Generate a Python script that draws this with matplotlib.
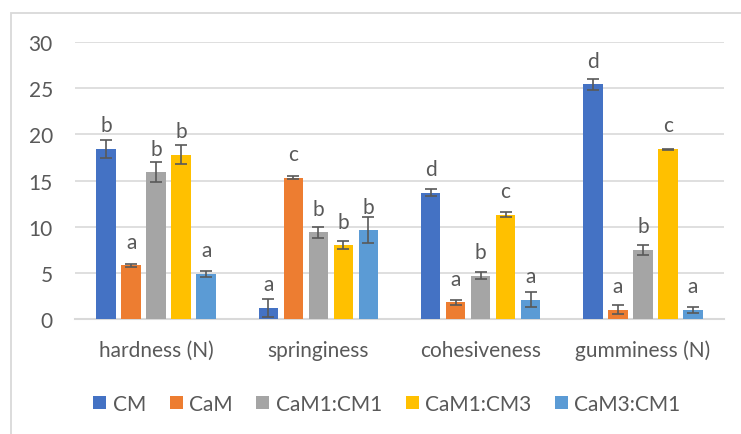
import matplotlib
matplotlib.use("Agg")
import matplotlib.pyplot as plt
import numpy as np
from matplotlib.patches import Rectangle

categories = ["hardness (N)", "springiness", "cohesiveness", "gumminess (N)"]
series = ["CM", "CaM", "CaM1:CM1", "CaM1:CM3", "CaM3:CM1"]
colors = ["#4472C4", "#ED7D31", "#A5A5A5", "#FFC000", "#5B9BD5"]

cm_vals = [18.4, 1.2, 13.7, 25.4]
cam_vals = [5.8, 15.3, 1.8, 1.0]
cam11_vals = [15.9, 9.4, 4.7, 7.5]
cam13_vals = [17.8, 8.0, 11.3, 18.4]
cam31_vals = [4.9, 9.6, 2.1, 1.0]

cm_err = [1.0, 1.0, 0.4, 0.6]
cam_err = [0.15, 0.15, 0.3, 0.5]
cam11_err = [1.1, 0.6, 0.4, 0.55]
cam13_err = [1.05, 0.45, 0.25, 0.05]
cam31_err = [0.3, 1.4, 0.8, 0.3]

cm_let = ["b", "a", "d", "d"]
cam_let = ["a", "c", "a", "a"]
cam11_let = ["b", "b", "b", "b"]
cam13_let = ["b", "b", "c", "c"]
cam31_let = ["a", "b", "a", "a"]

values = [cm_vals, cam_vals, cam11_vals, cam13_vals, cam31_vals]
errors = [cm_err, cam_err, cam11_err, cam13_err, cam31_err]
letters = [cm_let, cam_let, cam11_let, cam13_let, cam31_let]
yticks = [0, 5, 10, 15, 20, 25, 30]

plt.rcParams['font.family'] = ['Lato', 'DejaVu Sans']
txt = "#595959"
grid = "#D9D9D9"
fs = 15

W, H = 741, 435
fig = plt.figure(figsize=(W / 100, H / 100), dpi=100)
ax = fig.add_axes([75 / W, 1 - 320 / H, (724 - 75) / W, (320 - 43) / H])

# chart frame
fig.patches.append(Rectangle((11 / W, -0.1), 1.2, 1 - 14 / H + 0.1, transform=fig.transFigure,
                             fill=False, edgecolor=grid, linewidth=1.3, zorder=0))

x = np.arange(len(categories))
bw = 0.12
step = 0.154
for i, (s, c) in enumerate(zip(series, colors)):
    pos = x + (i - 2) * step
    ax.bar(pos, values[i], width=bw, color=c, label=s, zorder=3)
    ax.errorbar(pos, values[i], yerr=errors[i], fmt="none", ecolor="#595959",
                elinewidth=1.2, capsize=4, capthick=1.2, zorder=4)
    for p, v, l in zip(pos, values[i], letters[i]):
        ax.annotate(l, (p, v), xytext=(0, 17), textcoords="offset points",
                    ha="center", va="center", fontsize=fs, color=txt)

ax.set_xlim(-0.5, len(categories) - 0.5)
ax.set_ylim(0, 30)
ax.set_yticks(yticks)
ax.set_xticks(x)
ax.set_xticklabels(categories)
ax.yaxis.grid(True, color=grid, linewidth=1.2, zorder=0)
ax.set_axisbelow(True)
for side in ["top", "right", "left"]:
    ax.spines[side].set_visible(False)
ax.spines["bottom"].set_color(grid)
ax.spines["bottom"].set_linewidth(1.5)
ax.tick_params(axis="both", length=0, labelsize=fs, labelcolor=txt)
ax.tick_params(axis="y", pad=16)
ax.tick_params(axis="x", pad=15)

leg = fig.legend(loc="center", bbox_to_anchor=(387 / W, 1 - 405 / H), ncol=5, frameon=False,
                 fontsize=fs, handlelength=0.62, handleheight=0.62, handletextpad=0.3,
                 columnspacing=1.15, labelcolor=txt)

fig.savefig("out.png", dpi=100)
